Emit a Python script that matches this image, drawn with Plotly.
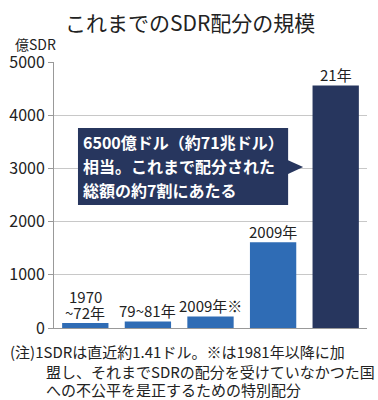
import plotly.graph_objects as go

categories = ["1970~72年", "79~81年", "2009年※", "2009年", "21年"]
values = [93, 121, 215, 1612, 4560]
bar_labels = ["1970<br>~72年", "79~81年", "2009年※", "2009年", "21年"]
bar_colors = ["#2f6cb5", "#2f6cb5", "#2f6cb5", "#2f6cb5", "#27365e"]
y_ticks = [0, 1000, 2000, 3000, 4000, 5000]

title_text = "これまでのSDR配分の規模"
unit_text = "億SDR"
callout_lines = ["6500億ドル（約71兆ドル）", "相当。これまで配分された", "総額の約7割にあたる"]
note_lines = ["(注)1SDRは直近約1.41ドル。※は1981年以降に加",
              "盟し、それまでSDRの配分を受けていなかつた国",
              "への不公平を是正するための特別配分"]

FONT = "Noto Sans CJK JP"
NAVY = "#27365e"

fig = go.Figure()
fig.add_trace(go.Bar(
    x=list(range(len(categories))), y=values,
    marker=dict(color=bar_colors, line=dict(width=0)),
    hoverinfo="skip",
))

fig.update_layout(
    width=378, height=400,
    margin=dict(l=54, r=11, t=62, b=72),
    paper_bgcolor="white", plot_bgcolor="white",
    showlegend=False, bargap=0.26,
    font=dict(family=FONT, color="#222"),
    xaxis=dict(range=[-0.5, 4.5], showticklabels=False, showgrid=False,
               zeroline=False, showline=True, linecolor="#999", linewidth=1,
               ticks=""),
    yaxis=dict(range=[0, 5000], tickvals=y_ticks, showgrid=True,
               gridcolor="#c8c8c8", gridwidth=1, zeroline=False,
               showline=True, linecolor="#999", linewidth=1,
               ticks="outside", ticklen=5, tickcolor="#999", automargin=False,
               tickfont=dict(family=FONT, size=16, color="#222")),
)

# bar labels (lines stacked upward from just above each bar)
for i, (lab, v) in enumerate(zip(bar_labels, values)):
    lines = lab.split("<br>")
    for k, ln in enumerate(reversed(lines)):
        fig.add_annotation(x=i, y=v, xref="x", yref="y", text=ln, showarrow=False,
                           xanchor="center", yanchor="middle", yshift=11 + 16 * k,
                           font=dict(family=FONT, size=15, color="#222"))

# title and unit
fig.add_annotation(x=0.5, y=1, xref="paper", yref="paper", text=title_text,
                   showarrow=False, xanchor="center", yanchor="middle",
                   xshift=190 - (54 + 313 / 2), yshift=62 - 22,
                   font=dict(family=FONT, size=21, color="#222"))
fig.add_annotation(x=0, y=1, xref="paper", yref="paper", text=unit_text,
                   showarrow=False, xanchor="right", yanchor="middle",
                   xshift=4, yshift=62 - 44,
                   font=dict(family=FONT, size=14, color="#222"))

# callout box with pointer
fig.add_shape(type="rect", xref="x", yref="y", x0=-0.117, x1=3.24, y0=2312, y1=3759,
              fillcolor=NAVY, line=dict(width=0), layer="above")
fig.add_shape(type="path", xref="x", yref="y",
              path="M 3.23 3160 L 3.48 3026 L 3.23 2890 Z",
              fillcolor=NAVY, line=dict(width=0), layer="above")
for i, line in enumerate(callout_lines):
    fig.add_annotation(x=-0.02, y=3500 - i * 451, xref="x", yref="y", text="<b>%s</b>" % line,
                       showarrow=False, xanchor="left", yanchor="middle", xshift=-3,
                       font=dict(family=FONT, size=16, color="white"))

# footnote
note_x = [8, 44, 44]
note_y = [351, 371, 389]
for t, nx, ny in zip(note_lines, note_x, note_y):
    fig.add_annotation(x=0, y=0, xref="paper", yref="paper", text=t,
                       showarrow=False, xanchor="left", yanchor="middle",
                       xshift=nx - 54, yshift=328 - ny,
                       font=dict(family=FONT, size=15, color="#222"))

fig.write_html("out.html", config={"displayModeBar": False},
               post_script="document.body.style.margin='0';")
